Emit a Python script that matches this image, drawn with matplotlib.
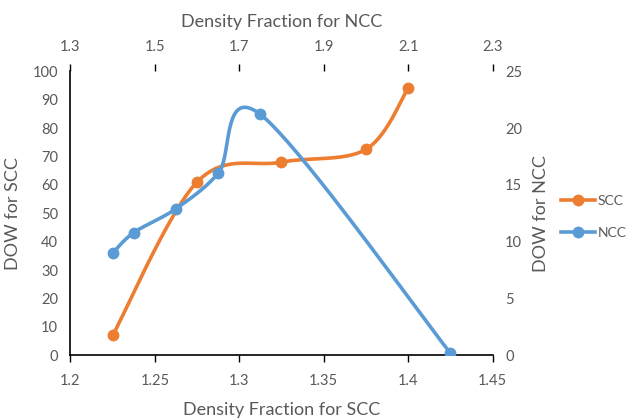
import numpy as np
import matplotlib
matplotlib.use('Agg')
import matplotlib.pyplot as plt
from matplotlib.lines import Line2D

plt.rcParams['font.family'] = ['Lato', 'DejaVu Sans']

# SCC series (bottom / left axes)
scc_density = [1.225, 1.275, 1.325, 1.375, 1.4]
scc_dow = [7, 61, 68, 72.5, 94]

# NCC series (top / right axes)
ncc_density = [1.4, 1.45, 1.55, 1.65, 1.75, 2.2]
ncc_dow = [9, 10.8, 12.9, 16, 21.2, 0.2]

scc_ticks = [1.2, 1.25, 1.3, 1.35, 1.4, 1.45]
ncc_ticks = [1.3, 1.5, 1.7, 1.9, 2.1, 2.3]

orange = '#ED7D31'
blue = '#5B9BD5'
grey = '#595959'


def smooth(x, y, n=40):
    # excel-like smoothed line (catmull-rom as cubic bezier)
    p = np.column_stack([x, y]).astype(float)
    out = []
    t = np.linspace(0, 1, n)[:, None]
    for i in range(len(p) - 1):
        p0 = p[i - 1] if i > 0 else p[i]
        p1, p2 = p[i], p[i + 1]
        p3 = p[i + 2] if i + 2 < len(p) else p[i + 1]
        c1 = p1 + (p2 - p0) / 6
        c2 = p2 - (p3 - p1) / 6
        seg = (1 - t)**3 * p1 + 3 * (1 - t)**2 * t * c1 + 3 * (1 - t) * t**2 * c2 + t**3 * p2
        out.append(seg)
    out = np.vstack(out)
    return out[:, 0], out[:, 1]


fig = plt.figure(figsize=(6.27, 4.19), dpi=100)
pos = [0.1124, 0.152, 0.6731, 0.678]
ax = fig.add_axes(pos)
ax2 = fig.add_axes(pos, frameon=False)

sx, sy = smooth(scc_density, scc_dow)
ax.plot(sx, sy, color=orange, lw=2.6, solid_capstyle='round')
ax.plot(scc_density, scc_dow, 'o', color=orange, ms=7.5)
ax.set_xlim(1.2, 1.45)
ax.set_ylim(0, 100)
ax.set_xticks(scc_ticks)
ax.set_xticklabels([str(v) for v in scc_ticks])
ax.set_yticks(range(0, 101, 10))
ax.tick_params(axis='x', direction='out', length=5, width=1, pad=8.5, labelsize=10.5, labelcolor=grey)
ax.tick_params(axis='y', length=0, pad=9, labelsize=10.5, labelcolor=grey)
ax.set_xlabel('Density Fraction for SCC', fontsize=13, color=grey, labelpad=10)
ax.set_ylabel('DOW for SCC', fontsize=13, color=grey, labelpad=8)
for s in ['top', 'right']:
    ax.spines[s].set_visible(False)
for s in ['left', 'bottom']:
    ax.spines[s].set_linewidth(1.2)

nx, ny = smooth(ncc_density, ncc_dow)
ax2.plot(nx, ny, color=blue, lw=2.6, solid_capstyle='round')
ax2.plot(ncc_density, ncc_dow, 'o', color=blue, ms=7.5)
ax2.set_xlim(1.3, 2.3)
ax2.set_ylim(0, 25)
ax2.xaxis.tick_top()
ax2.xaxis.set_label_position('top')
ax2.yaxis.tick_right()
ax2.yaxis.set_label_position('right')
ax2.set_xticks(ncc_ticks)
ax2.set_xticklabels([str(v) for v in ncc_ticks])
ax2.set_yticks(range(0, 26, 5))
ax2.tick_params(axis='x', direction='out', length=5, width=1, pad=7.5, labelsize=10.5, labelcolor=grey)
ax2.tick_params(axis='y', length=0, pad=9, labelsize=10.5, labelcolor=grey)
ax2.set_xlabel('Density Fraction for NCC', fontsize=13, color=grey, labelpad=9)
ax2.set_ylabel('DOW for NCC', fontsize=13, color=grey, labelpad=8)
ax2.spines['top'].set_visible(True)
ax2.spines['right'].set_visible(True)
ax2.spines['top'].set_linewidth(1.2)
ax2.spines['right'].set_linewidth(1.2)
ax2.spines['left'].set_visible(False)
ax2.spines['bottom'].set_visible(False)

handles = [Line2D([], [], color=orange, lw=2.6, marker='o', ms=7.5),
           Line2D([], [], color=blue, lw=2.6, marker='o', ms=7.5)]
leg = fig.legend(handles, ['SCC', 'NCC'], loc='center left', bbox_to_anchor=(0.895, 0.482),
                 frameon=False, fontsize=10, handlelength=2.45, handletextpad=0.2,
                 labelspacing=1.4, borderaxespad=0, borderpad=0)
for t in leg.get_texts():
    t.set_color(grey)

fig.savefig('out.png', dpi=100)
